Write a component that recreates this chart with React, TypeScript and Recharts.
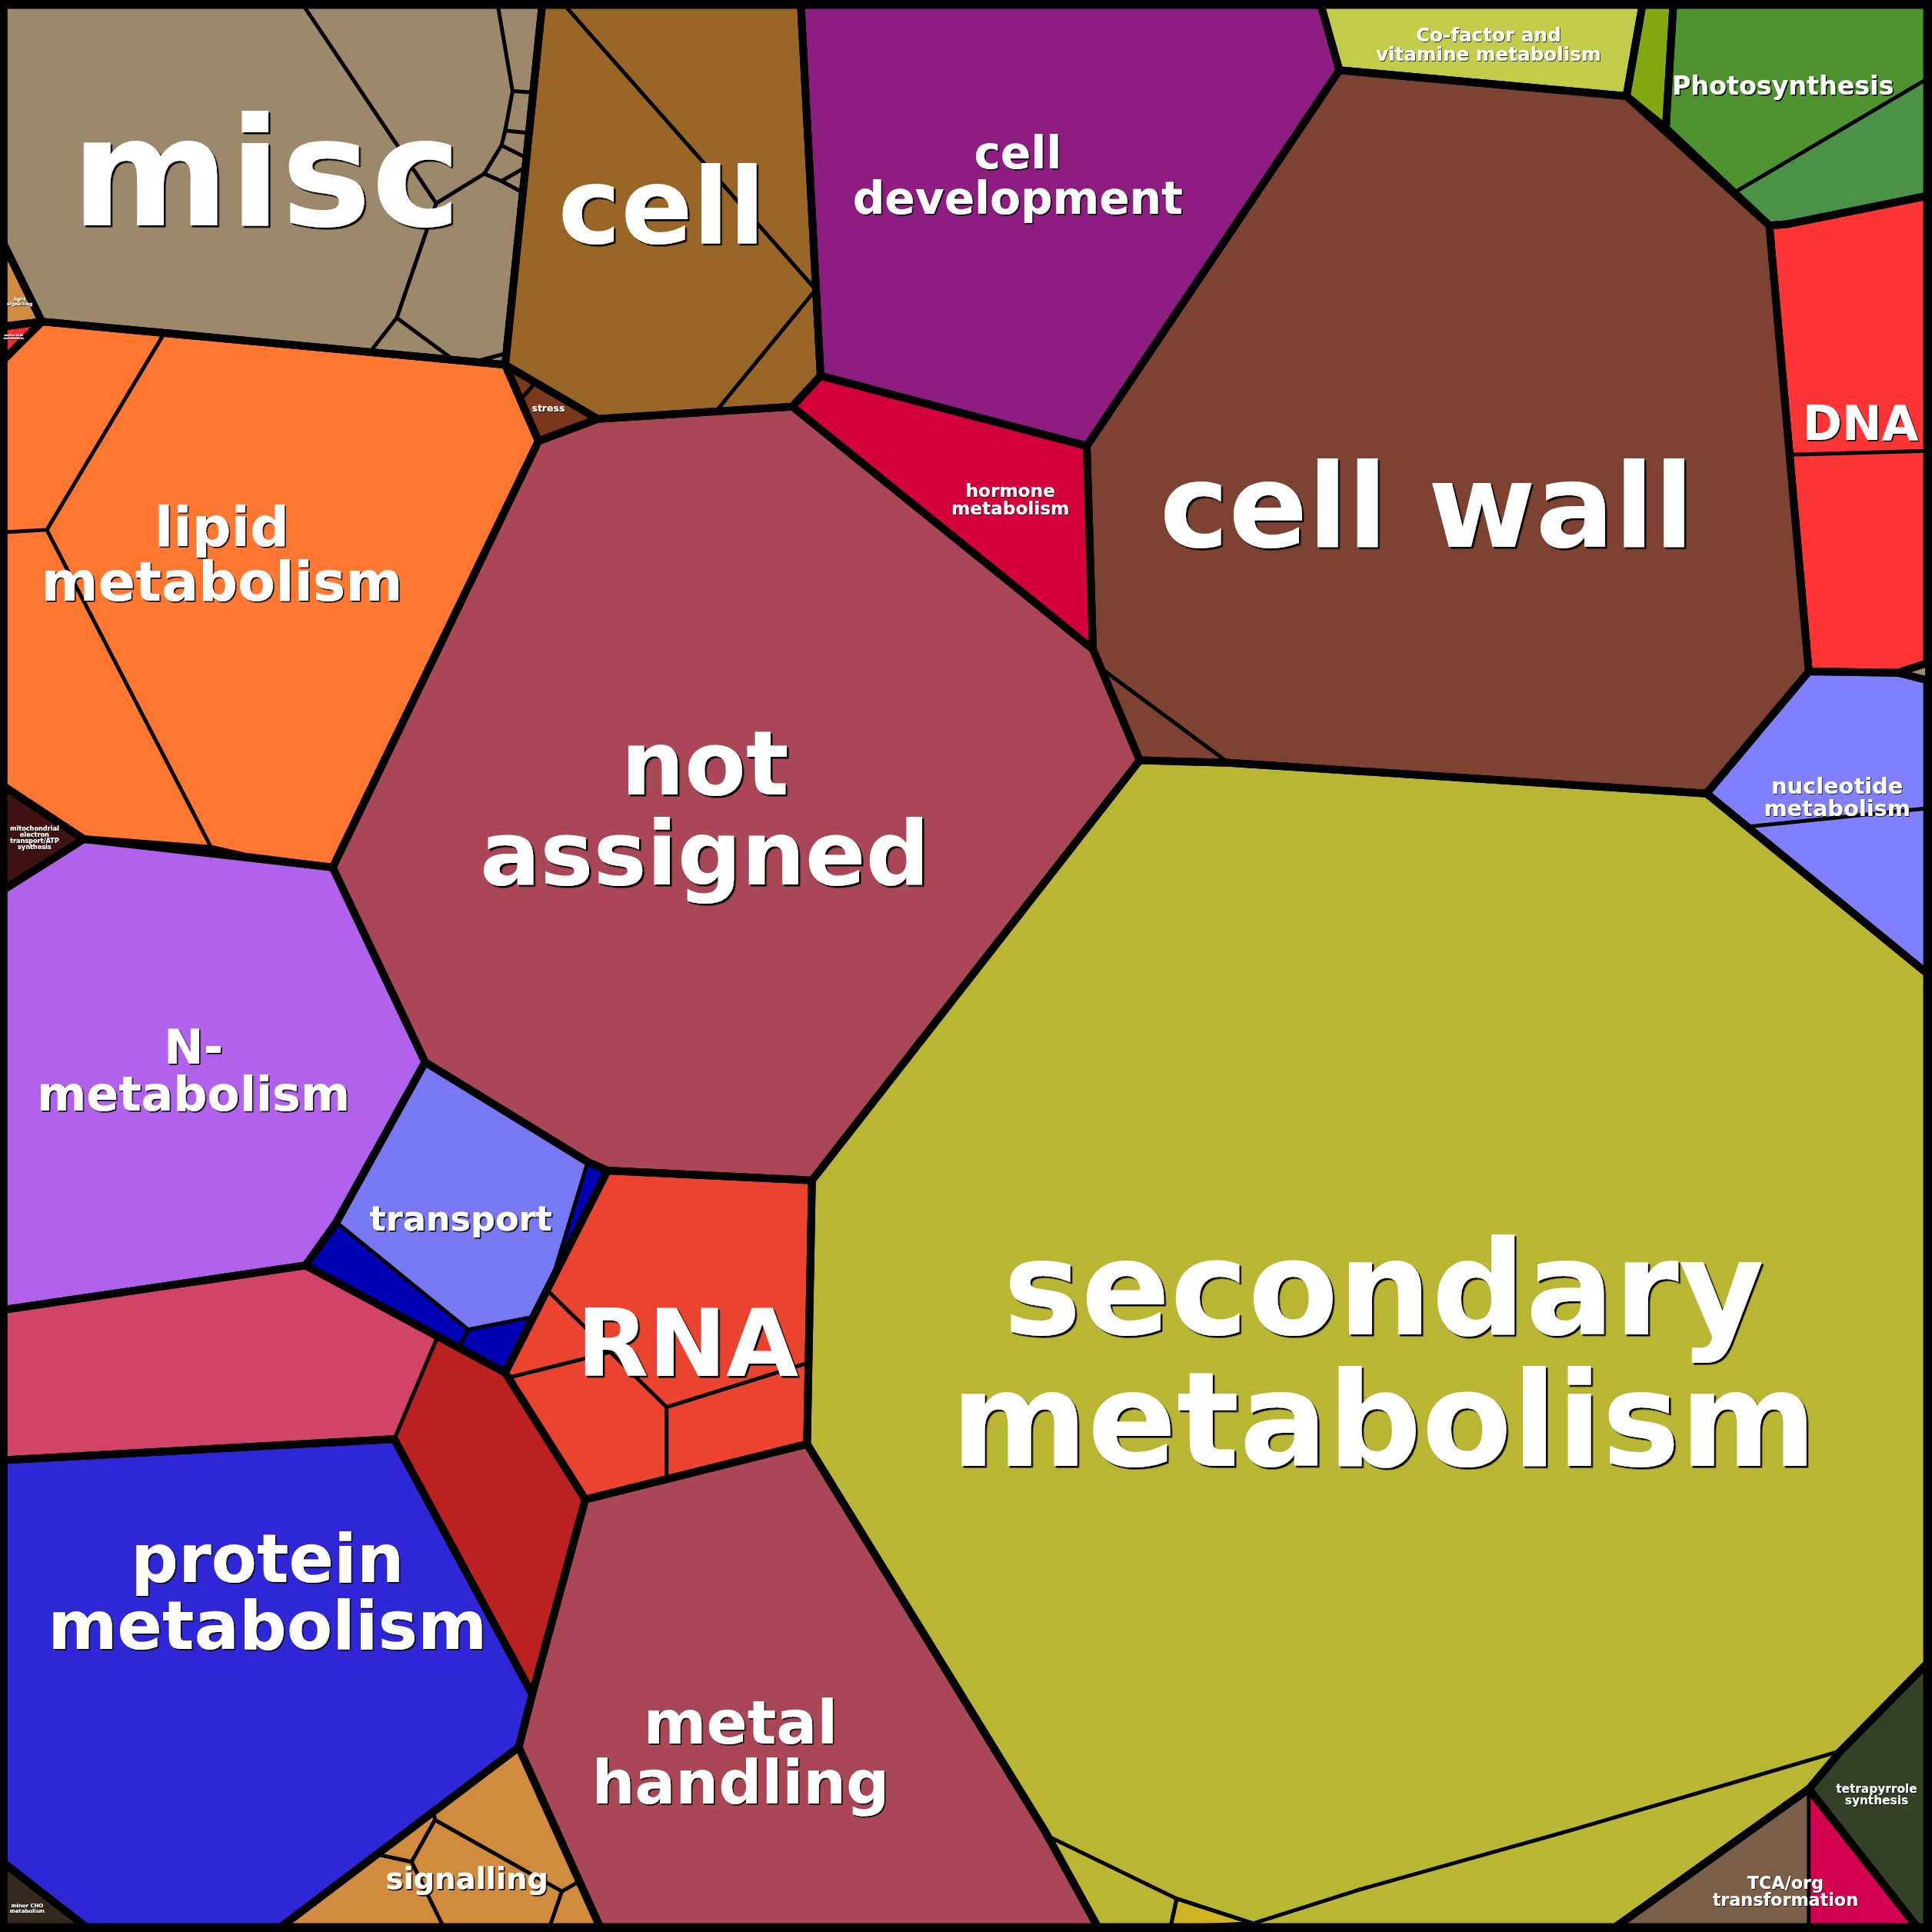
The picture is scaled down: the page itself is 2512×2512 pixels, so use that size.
import React from 'react';
import { ScatterChart, Scatter, XAxis, YAxis } from 'recharts';

type Pt = [number, number];

// chart is drawn in a 0..1568 data space, scaled to the 2512px canvas
const SIZE = 2512;
const SPAN = 1568;

const cells: { name: string; pts: Pt[] }[] = [
  { name: 'misc', pts: [[3, 4], [440, 4], [410, 296], [34, 261], [3, 198]] },
  { name: 'light signalling', pts: [[3, 198], [34, 261], [3, 265]] },
  { name: 'amino acid metabolism', pts: [[3, 265], [34, 261], [3, 292]] },
  { name: 'lipid metabolism', pts: [[34, 261], [410, 296], [437, 358], [270, 704], [198, 695], [172, 689], [68, 681], [3, 638], [3, 292]] },
  { name: 'mitochondrial electron transport/ATP synthesis', pts: [[3, 638], [68, 681], [3, 722]] },
  { name: 'N-metabolism', pts: [[3, 722], [68, 681], [270, 704], [345, 862], [273, 992], [248, 1027], [3, 1063]] },
  { name: 'transport', pts: [[345, 862], [477, 943], [493, 950], [410, 1114], [248, 1027], [273, 992]] },
  { name: 'redox', pts: [[3, 1063], [248, 1027], [410, 1114], [475, 1217], [432, 1375], [320, 1168], [3, 1185]] },
  { name: 'protein metabolism', pts: [[3, 1185], [320, 1168], [432, 1375], [421, 1418], [228, 1564], [70, 1564], [3, 1512]] },
  { name: 'minor CHO metabolism', pts: [[3, 1512], [70, 1564], [3, 1564]] },
  { name: 'signalling', pts: [[228, 1564], [421, 1418], [487, 1564]] },
  { name: 'metal handling', pts: [[475, 1217], [655, 1172], [848, 1486], [891, 1564], [487, 1564], [421, 1418], [432, 1375]] },
  { name: 'RNA', pts: [[493, 950], [659, 958], [655, 1172], [475, 1217], [410, 1114]] },
  { name: 'not assigned', pts: [[437, 358], [485, 340], [643, 330], [887, 527], [925, 617], [659, 958], [493, 950], [477, 943], [345, 862], [270, 704]] },
  { name: 'stress', pts: [[410, 296], [485, 340], [437, 358]] },
  { name: 'cell', pts: [[440, 4], [650, 4], [666, 305], [643, 330], [485, 340], [410, 296]] },
  { name: 'cell development', pts: [[650, 4], [1072, 4], [1087, 57], [882, 362], [666, 305]] },
  { name: 'hormone metabolism', pts: [[666, 305], [882, 362], [887, 527], [643, 330]] },
  { name: 'Co-factor and vitamine metabolism', pts: [[1072, 4], [1333, 4], [1320, 78], [1087, 57]] },
  { name: 'C1-metabolism', pts: [[1333, 4], [1358, 4], [1352, 104], [1320, 78]] },
  { name: 'Photosynthesis', pts: [[1358, 4], [1564, 4], [1564, 159], [1450, 182], [1436, 183], [1352, 104]] },
  { name: 'DNA', pts: [[1436, 183], [1450, 182], [1564, 159], [1564, 538], [1540, 546], [1468, 545]] },
  { name: 'nucleotide metabolism', pts: [[1385, 644], [1468, 545], [1540, 546], [1564, 552], [1564, 790]] },
  { name: 'cell wall', pts: [[1087, 57], [1320, 78], [1436, 183], [1468, 545], [1385, 644], [997, 619], [925, 617], [887, 527], [882, 362]] },
  { name: 'secondary metabolism', pts: [[925, 617], [997, 619], [1385, 644], [1564, 790], [1564, 1350], [1494, 1421], [1468, 1452], [1311, 1564], [891, 1564], [848, 1486], [655, 1172], [659, 958]] },
  { name: 'tetrapyrrole synthesis', pts: [[1468, 1452], [1494, 1421], [1564, 1350], [1564, 1564], [1556, 1564]] },
  { name: 'TCA/org transformation', pts: [[1311, 1564], [1468, 1452], [1556, 1564]] },
];

const subCells: { name: string; pts: Pt[] }[] = [
  { name: 'Photosynthesis.2', pts: [[1408, 156], [1564, 64], [1564, 159], [1450, 182], [1436, 183]] },
  { name: 'transport.1', pts: [[345, 862], [477, 943], [450, 1032], [431, 1069], [380, 1079], [273, 992]] },
  { name: 'redox.2', pts: [[355, 1085], [410, 1114], [475, 1217], [432, 1375], [320, 1168]] },
  { name: 'TCA.2', pts: [[1468, 1452], [1556, 1564], [1468, 1564]] },
  { name: 'secondary.gold', pts: [[955, 1541], [1017, 1561], [950, 1564]] },
  { name: 'misc.sliver', pts: [[1540, 546], [1564, 540], [1564, 553]] },
];

const splits: Pt[][] = [
  // misc
  [[246, 4], [354, 165], [347, 185], [322, 258], [300, 286]],
  [[322, 258], [368, 292]],
  [[354, 165], [393, 141]],
  [[404, 4], [416, 74], [410, 106], [407, 118], [393, 141], [407, 147]],
  [[416, 74], [433, 75]],
  [[410, 106], [429, 108]],
  [[407, 118], [427, 128]],
  [[407, 147], [426, 136]],
  [[407, 147], [424, 156]],
  [[384, 294], [410, 287]],
  // lipid
  [[133, 271], [38, 430], [3, 432]],
  [[38, 430], [172, 689]],
  // cell
  [[458, 4], [662, 235], [581, 334]],
  // stress
  [[435, 310], [422, 325]],
  // cell wall
  [[893, 542], [997, 619]],
  // DNA
  [[1452, 369], [1564, 366]],
  // nucleotide
  [[1418, 671], [1564, 656]],
  // secondary metabolism
  [[850, 1490], [955, 1541], [1017, 1561], [1102, 1534], [1280, 1484], [1494, 1421]],
  [[955, 1541], [950, 1564]],
  // RNA
  [[444, 1047], [541, 1142], [541, 1200]],
  [[541, 1142], [656, 1106]],
  [[413, 1118], [497, 1097]],
  // signalling
  [[352, 1470], [353, 1477], [334, 1511], [306, 1505]],
  [[334, 1511], [360, 1564]],
  [[353, 1477], [456, 1535], [470, 1527]],
  [[456, 1535], [446, 1564]],
  // transport
  [[380, 1079], [373, 1093]],
];

const labels: { name: string; lines: string[]; at: Pt }[] = [
  { name: 'misc', lines: ['misc'], at: [216, 183] },
  { name: 'cell', lines: ['cell'], at: [537, 197] },
  { name: 'cell development', lines: ['cell', 'development'], at: [826, 137] },
  { name: 'Co-factor and vitamine metabolism', lines: ['Co-factor and', 'vitamine metabolism'], at: [1208, 34] },
  { name: 'Photosynthesis', lines: ['Photosynthesis'], at: [1447, 77] },
  { name: 'DNA', lines: ['DNA'], at: [1510, 357] },
  { name: 'cell wall', lines: ['cell wall'], at: [1158, 444] },
  { name: 'hormone metabolism', lines: ['hormone', 'metabolism'], at: [820, 403] },
  { name: 'lipid metabolism', lines: ['lipid', 'metabolism'], at: [180, 443] },
  { name: 'not assigned', lines: ['not', 'assigned'], at: [572, 645] },
  { name: 'nucleotide metabolism', lines: ['nucleotide', 'metabolism'], at: [1491, 644] },
  { name: 'N-metabolism', lines: ['N-', 'metabolism'], at: [157, 863] },
  { name: 'transport', lines: ['transport'], at: [374, 999] },
  { name: 'RNA', lines: ['RNA'], at: [558, 1117] },
  { name: 'secondary metabolism', lines: ['secondary', 'metabolism'], at: [1123, 1083] },
  { name: 'protein metabolism', lines: ['protein', 'metabolism'], at: [217, 1284] },
  { name: 'metal handling', lines: ['metal', 'handling'], at: [601, 1415] },
  { name: 'signalling', lines: ['signalling'], at: [379, 1533] },
  { name: 'tetrapyrrole synthesis', lines: ['tetrapyrrole', 'synthesis'], at: [1523, 1455] },
  { name: 'TCA/org transformation', lines: ['TCA/org', 'transformation'], at: [1449, 1533] },
  { name: 'stress', lines: ['stress'], at: [445, 334] },
  { name: 'mitochondrial electron transport/ATP synthesis', lines: ['mitochondrial', 'electron', 'transport/ATP', 'synthesis'], at: [28, 674] },
  { name: 'light signalling', lines: ['light', 'signalling'], at: [16, 244] },
  { name: 'amino acid metabolism', lines: ['amino acid', 'metabolism'], at: [11, 273] },
  { name: 'minor CHO metabolism', lines: ['minor CHO', 'metabolism'], at: [22, 1548] },
];

const colors: Record<string, string> = {
  misc: '#9C896B',
  'light signalling': '#D08B3E',
  'amino acid metabolism': '#EE2D32',
  'lipid metabolism': '#FF7731',
  'mitochondrial electron transport/ATP synthesis': '#401212',
  'N-metabolism': '#B162EC',
  transport: '#0000B4',
  redox: '#D24368',
  'protein metabolism': '#2F27D5',
  'minor CHO metabolism': '#33291F',
  signalling: '#D18B3E',
  'metal handling': '#AA4757',
  RNA: '#EA4430',
  'not assigned': '#AA4757',
  stress: '#7B381C',
  cell: '#9A6628',
  'cell development': '#8E1D81',
  'hormone metabolism': '#D4003B',
  'Co-factor and vitamine metabolism': '#C3CB4B',
  'C1-metabolism': '#85A711',
  Photosynthesis: '#4F9230',
  DNA: '#FF3535',
  'nucleotide metabolism': '#7F7FFF',
  'cell wall': '#7D4231',
  'secondary metabolism': '#B8B632',
  'tetrapyrrole synthesis': '#354127',
  'TCA/org transformation': '#7A5E48',
  'Photosynthesis.2': '#4B9146',
  'transport.1': '#7878F3',
  'redox.2': '#BB2121',
  'TCA.2': '#D40050',
  'secondary.gold': '#CFB324',
  'misc.sliver': '#9C896B',
};

// label font sizes in data units
const fontSizes: Record<string, number> = {
  misc: 123,
  cell: 86,
  'cell development': 36.3,
  'Co-factor and vitamine metabolism': 15.4,
  Photosynthesis: 20.8,
  DNA: 38.5,
  'cell wall': 94.5,
  'hormone metabolism': 14.5,
  'lipid metabolism': 44.5,
  'not assigned': 72.6,
  'nucleotide metabolism': 18,
  'N-metabolism': 38.5,
  transport: 27.8,
  RNA: 75.6,
  'secondary metabolism': 106.5,
  'protein metabolism': 54,
  'metal handling': 49,
  signalling: 24,
  'tetrapyrrole synthesis': 9.6,
  'TCA/org transformation': 13.9,
  stress: 7.8,
  'mitochondrial electron transport/ATP synthesis': 5.1,
  'light signalling': 3.8,
  'amino acid metabolism': 2.5,
  'minor CHO metabolism': 4.3,
};

const K = SIZE / SPAN;
const THICK = 10;
const THIN = 5;

const toData = (pts: Pt[]) => pts.map(([x, y]) => ({ x, y }));
const noDot = () => <g />;

const shapeLine = (fill: string, width: number, closed: boolean) => (props: any) => {
  const pts = (props.points || []).map((p: any) => `${p.x},${p.y}`).join(' ');
  return closed ? (
    <polygon points={pts} fill={fill} stroke={width ? '#000' : 'none'} strokeWidth={width} strokeLinejoin="round" />
  ) : (
    <polyline points={pts} fill="none" stroke="#000" strokeWidth={width} strokeLinejoin="round" strokeLinecap="round" />
  );
};

const shadowId = (fs: number) => (fs > 100 ? 'sh-l' : fs > 30 ? 'sh-m' : 'sh-s');

const LabelShape = (props: any) => {
  const { cx, cy, payload } = props;
  const fs = fontSizes[payload.name] * K;
  return (
    <text
      x={cx}
      y={cy}
      fontFamily="DejaVu Sans"
      fontWeight="bold"
      fontSize={fs}
      textAnchor="middle"
      fill="#fff"
      filter={`url(#${shadowId(fs)})`}
    >
      {payload.lines.map((t: string, i: number) => (
        <tspan key={i} x={cx} dy={i === 0 ? 0 : fs}>{t}</tspan>
      ))}
    </text>
  );
};

const frame: Pt[] = [[0, 0], [SPAN, 0], [SPAN, SPAN], [0, SPAN]];

export default function App() {
  const labelData = labels.map((l) => ({ x: l.at[0], y: l.at[1], name: l.name, lines: l.lines }));
  return (
    <div style={{ position: 'absolute', left: 0, top: 0, background: '#000' }}>
      <svg width={0} height={0} style={{ position: 'absolute' }}>
        <defs>
          <filter id="sh-l" x="-5%" y="-5%" width="110%" height="120%">
            <feDropShadow dx={2.5} dy={2.5} stdDeviation={0.3} floodColor="#000" floodOpacity={1} />
          </filter>
          <filter id="sh-m" x="-5%" y="-5%" width="110%" height="120%">
            <feDropShadow dx={1.6} dy={1.6} stdDeviation={0.2} floodColor="#000" floodOpacity={1} />
          </filter>
          <filter id="sh-s" x="-5%" y="-5%" width="110%" height="120%">
            <feDropShadow dx={0.8} dy={0.8} stdDeviation={0.1} floodColor="#000" floodOpacity={1} />
          </filter>
        </defs>
      </svg>
      <ScatterChart width={SIZE} height={SIZE} margin={{ top: 0, right: 0, bottom: 0, left: 0 }}>
        <XAxis type="number" dataKey="x" domain={[0, SPAN]} allowDataOverflow hide />
        <YAxis type="number" dataKey="y" domain={[0, SPAN]} allowDataOverflow reversed hide />
        <Scatter data={toData(frame)} line={shapeLine('#000', 0, true)} shape={noDot} isAnimationActive={false} />
        {cells.map((c) => (
          <Scatter key={`f-${c.name}`} data={toData(c.pts)} line={shapeLine(colors[c.name], 0, true)} shape={noDot} isAnimationActive={false} />
        ))}
        {subCells.map((c) => (
          <Scatter key={`s-${c.name}`} data={toData(c.pts)} line={shapeLine(colors[c.name], THIN, true)} shape={noDot} isAnimationActive={false} />
        ))}
        {splits.map((s, i) => (
          <Scatter key={`l-${i}`} data={toData(s)} line={shapeLine('none', THIN, false)} shape={noDot} isAnimationActive={false} />
        ))}
        {cells.map((c) => (
          <Scatter key={`o-${c.name}`} data={toData(c.pts)} line={shapeLine('none', THICK, true)} shape={noDot} isAnimationActive={false} />
        ))}
        <Scatter data={labelData} shape={LabelShape} isAnimationActive={false} />
      </ScatterChart>
    </div>
  );
}
